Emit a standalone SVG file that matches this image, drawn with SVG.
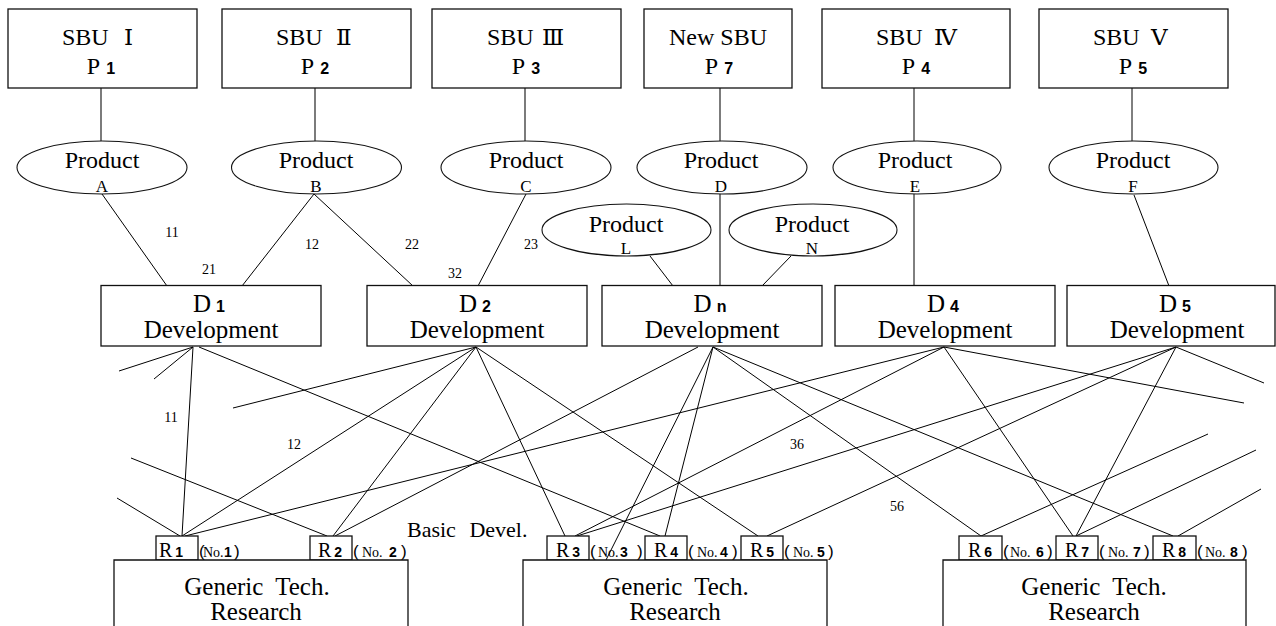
<svg xmlns="http://www.w3.org/2000/svg" width="1276" height="626" viewBox="0 0 1276 626">
  <style>
    .box { fill: #fff; stroke: #111; stroke-width: 1.3; }
    .ell { fill: #fff; stroke: #111; stroke-width: 1.1; }
    .stem { stroke: #444; stroke-width: 1.4; fill: none; }
    .wire { stroke: #000; stroke-width: 1; fill: none; }
    text { font-family: "Liberation Serif", "Times New Roman", serif; fill: #000; }
    .big { font-size: 24px; }
    .dev { font-size: 25px; }
    .prod { font-size: 24px; text-anchor: middle; }
    .sub { font-size: 17px; text-anchor: middle; }
    .mid { text-anchor: middle; }
    .dg { font-family: "Liberation Sans", Arial, sans-serif; font-weight: bold; font-size: 16px; }
    .rdg { font-family: "Liberation Sans", Arial, sans-serif; font-weight: bold; font-size: 14px; }
    .rl { font-size: 20px; }
    .nn { font-size: 14px; }
    .pr { font-family: "Liberation Sans", Arial, sans-serif; font-size: 17px; }
    .w { font-size: 14px; text-anchor: middle; }
    .num { font-family: "DejaVu Serif", "Liberation Serif", "Noto Sans CJK JP", serif; font-size: 23px; }
  </style>

  <!-- links between layers -->
  <g id="connectors">
    <!-- SBU to product -->
    <line class="stem" x1="101" y1="88" x2="101" y2="141"/>
    <line class="stem" x1="315" y1="88" x2="315" y2="141"/>
    <line class="stem" x1="525" y1="88" x2="525" y2="141"/>
    <line class="stem" x1="720" y1="88" x2="720" y2="141"/>
    <line class="wire" x1="914" y1="88" x2="914" y2="141"/>
    <line class="wire" x1="1132" y1="88" x2="1132" y2="141"/>

    <!-- product to development -->
    <line class="wire" x1="102" y1="194" x2="167" y2="286"/>
    <line class="wire" x1="314" y1="194" x2="242" y2="286"/>
    <line class="wire" x1="314" y1="194" x2="413" y2="286"/>
    <line class="wire" x1="526" y1="194" x2="478" y2="286"/>
    <line class="stem" x1="720" y1="194" x2="720" y2="286"/>
    <line class="wire" x1="650" y1="256" x2="673" y2="286"/>
    <line class="wire" x1="791" y1="256" x2="762" y2="286"/>
    <line class="wire" x1="914" y1="194" x2="914" y2="289"/>
    <line class="wire" x1="1134" y1="195" x2="1169" y2="286"/>

    <!-- development to research -->
    <line class="wire" x1="193" y1="347" x2="119" y2="371"/>
    <line class="wire" x1="193" y1="347" x2="154" y2="379"/>
    <line class="wire" x1="193" y1="347" x2="182" y2="536"/>
    <line class="wire" x1="199" y1="347" x2="660" y2="536"/>

    <line class="wire" x1="476" y1="347" x2="233" y2="408"/>
    <line class="wire" x1="476" y1="347" x2="182" y2="536"/>
    <line class="wire" x1="476" y1="347" x2="333" y2="536"/>
    <line class="wire" x1="476" y1="347" x2="565" y2="536"/>
    <line class="wire" x1="476" y1="347" x2="758" y2="536"/>

    <line class="wire" x1="698" y1="347" x2="335" y2="536"/>
    <line class="wire" x1="713" y1="347" x2="606" y2="560"/>
    <line class="wire" x1="713" y1="347" x2="665" y2="536"/>
    <line class="wire" x1="713" y1="347" x2="981" y2="536"/>
    <line class="wire" x1="713" y1="347" x2="1173" y2="536"/>

    <line class="wire" x1="944" y1="347" x2="185" y2="536"/>
    <line class="wire" x1="944" y1="347" x2="575" y2="536"/>
    <line class="wire" x1="944" y1="347" x2="1073" y2="536"/>
    <line class="wire" x1="944" y1="347" x2="1244" y2="403"/>

    <line class="wire" x1="1176" y1="347" x2="577" y2="536"/>
    <line class="wire" x1="1176" y1="347" x2="767" y2="536"/>
    <line class="wire" x1="1176" y1="347" x2="1076" y2="536"/>
    <line class="wire" x1="1176" y1="347" x2="1264" y2="383"/>

    <!-- stubs rising from research nodes -->
    <line class="wire" x1="327" y1="536" x2="131" y2="458"/>
    <line class="wire" x1="180" y1="536" x2="117" y2="498"/>
    <line class="wire" x1="981" y1="536" x2="1208" y2="434"/>
    <line class="wire" x1="1076" y1="536" x2="1256" y2="450"/>
    <line class="wire" x1="1178" y1="536" x2="1261" y2="489"/>
  </g>

  <!-- weights -->
  <g id="weights">
    <text class="w" x="172" y="237">11</text>
    <text class="w" x="312" y="249">12</text>
    <text class="w" x="412" y="249">22</text>
    <text class="w" x="531" y="249">23</text>
    <text class="w" x="209" y="274">21</text>
    <text class="w" x="455" y="278">32</text>
    <text class="w" x="171" y="422">11</text>
    <text class="w" x="294" y="449">12</text>
    <text class="w" x="797" y="449">36</text>
    <text class="w" x="897" y="511">56</text>
  </g>

  <!-- strategic business units -->
  <g id="sbu1">
    <rect class="box" x="8" y="9" width="189" height="79"/>
    <text class="big" x="62" y="45">SBU</text><text class="num" x="124" y="45">Ⅰ</text>
    <text class="big mid" x="101" y="74">P<tspan class="dg" dx="6">1</tspan></text>
  </g>
  <g id="sbu2">
    <rect class="box" x="222" y="9" width="189" height="79"/>
    <text class="big" x="276" y="45">SBU</text><text class="num" x="336" y="45">Ⅱ</text>
    <text class="big mid" x="315" y="74">P<tspan class="dg" dx="6">2</tspan></text>
  </g>
  <g id="sbu3">
    <rect class="box" x="432" y="9" width="189" height="79"/>
    <text class="big" x="487" y="45">SBU</text><text class="num" x="542" y="45">Ⅲ</text>
    <text class="big mid" x="526" y="74">P<tspan class="dg" dx="6">3</tspan></text>
  </g>
  <g id="sbuNew">
    <rect class="box" x="644" y="9" width="148" height="79"/>
    <text class="big mid" x="718" y="45">New SBU</text>
    <text class="big mid" x="719" y="74">P<tspan class="dg" dx="6">7</tspan></text>
  </g>
  <g id="sbu4">
    <rect class="box" x="822" y="9" width="188" height="79"/>
    <text class="big" x="876" y="45">SBU</text><text class="num" x="934" y="45">Ⅳ</text>
    <text class="big mid" x="916" y="74">P<tspan class="dg" dx="6">4</tspan></text>
  </g>
  <g id="sbu5">
    <rect class="box" x="1039" y="9" width="189" height="79"/>
    <text class="big" x="1093" y="45">SBU</text><text class="num" x="1151" y="45">Ⅴ</text>
    <text class="big mid" x="1133" y="74">P<tspan class="dg" dx="6">5</tspan></text>
  </g>

  <!-- products -->
  <g id="prodA">
    <ellipse class="ell" cx="102" cy="167.5" rx="85" ry="26.5"/>
    <text class="prod" x="102" y="168">Product</text>
    <text class="sub" x="102" y="192">A</text>
  </g>
  <g id="prodB">
    <ellipse class="ell" cx="316.5" cy="167.5" rx="85" ry="26.5"/>
    <text class="prod" x="316" y="168">Product</text>
    <text class="sub" x="316" y="192">B</text>
  </g>
  <g id="prodC">
    <ellipse class="ell" cx="526" cy="167.5" rx="85" ry="26.5"/>
    <text class="prod" x="526" y="168">Product</text>
    <text class="sub" x="526" y="192">C</text>
  </g>
  <g id="prodD">
    <ellipse class="ell" cx="722" cy="167.5" rx="85" ry="26.5"/>
    <text class="prod" x="721" y="168">Product</text>
    <text class="sub" x="721" y="192">D</text>
  </g>
  <g id="prodE">
    <ellipse class="ell" cx="917" cy="167.5" rx="84" ry="26.5"/>
    <text class="prod" x="915" y="168">Product</text>
    <text class="sub" x="915" y="192">E</text>
  </g>
  <g id="prodF">
    <ellipse class="ell" cx="1133.5" cy="167.5" rx="84.5" ry="26.5"/>
    <text class="prod" x="1133" y="168">Product</text>
    <text class="sub" x="1133" y="192">F</text>
  </g>
  <g id="prodL">
    <ellipse class="ell" cx="626.5" cy="230" rx="84.5" ry="26"/>
    <text class="prod" x="626" y="232">Product</text>
    <text class="sub" x="626" y="254">L</text>
  </g>
  <g id="prodN">
    <ellipse class="ell" cx="813" cy="230" rx="84" ry="26"/>
    <text class="prod" x="812" y="232">Product</text>
    <text class="sub" x="812" y="254">N</text>
  </g>

  <!-- development units -->
  <g id="dev1">
    <rect class="box" x="101" y="285.5" width="220" height="60.5"/>
    <text class="dev mid" x="209" y="312">D<tspan class="dg" dx="5">1</tspan></text>
    <text class="dev mid" x="211" y="338">Development</text>
  </g>
  <g id="dev2">
    <rect class="box" x="367" y="285.5" width="220" height="60.5"/>
    <text class="dev mid" x="475" y="312">D<tspan class="dg" dx="5">2</tspan></text>
    <text class="dev mid" x="477" y="338">Development</text>
  </g>
  <g id="devN">
    <rect class="box" x="602" y="285.5" width="220" height="60.5"/>
    <text class="dev mid" x="710" y="312">D<tspan class="dg" dx="5">n</tspan></text>
    <text class="dev mid" x="712" y="338">Development</text>
  </g>
  <g id="dev4">
    <rect class="box" x="835" y="285.5" width="220" height="60.5"/>
    <text class="dev mid" x="943" y="312">D<tspan class="dg" dx="5">4</tspan></text>
    <text class="dev mid" x="945" y="338">Development</text>
  </g>
  <g id="dev5">
    <rect class="box" x="1067" y="285.5" width="208" height="60.5"/>
    <text class="dev mid" x="1175" y="312">D<tspan class="dg" dx="5">5</tspan></text>
    <text class="dev mid" x="1177" y="338">Development</text>
  </g>

  <text id="basicDevel" x="407" y="537" font-size="22" word-spacing="8">Basic Devel.</text>

  <!-- research nodes -->
  <g id="r1">
    <rect class="box" x="156" y="536" width="42" height="24"/>
    <text class="rl mid" x="171" y="557">R<tspan class="rdg" dx="3">1</tspan></text>
    <text y="557"><tspan class="pr" x="199">(</tspan><tspan class="nn" x="203" font-size="10">No.</tspan><tspan class="rdg" x="224">1</tspan><tspan class="pr" x="234">)</tspan></text>
  </g>
  <g id="r2">
    <rect class="box" x="310" y="536" width="42" height="24"/>
    <text class="rl mid" x="330" y="557">R<tspan class="rdg" dx="3">2</tspan></text>
    <text y="557"><tspan class="pr" x="353">(</tspan><tspan class="nn" x="362">No.</tspan><tspan class="rdg" x="389">2</tspan><tspan class="pr" x="401">)</tspan></text>
  </g>
  <g id="r3">
    <rect class="box" x="547" y="536" width="42" height="24"/>
    <text class="rl mid" x="568" y="557">R<tspan class="rdg" dx="3">3</tspan></text>
    <text y="557"><tspan class="pr" x="590">(</tspan><tspan class="nn" x="598">No.</tspan><tspan class="rdg" x="620">3</tspan><tspan class="pr" x="637">)</tspan></text>
  </g>
  <g id="r4">
    <rect class="box" x="645" y="536" width="42" height="24"/>
    <text class="rl mid" x="666" y="557">R<tspan class="rdg" dx="3">4</tspan></text>
    <text y="557"><tspan class="pr" x="688">(</tspan><tspan class="nn" x="697">No.</tspan><tspan class="rdg" x="720">4</tspan><tspan class="pr" x="732">)</tspan></text>
  </g>
  <g id="r5">
    <rect class="box" x="741" y="536" width="42" height="24"/>
    <text class="rl mid" x="762" y="557">R<tspan class="rdg" dx="3">5</tspan></text>
    <text y="557"><tspan class="pr" x="784">(</tspan><tspan class="nn" x="793">No.</tspan><tspan class="rdg" x="817">5</tspan><tspan class="pr" x="828">)</tspan></text>
  </g>
  <g id="r6">
    <rect class="box" x="959" y="536" width="43" height="24"/>
    <text class="rl mid" x="980" y="557">R<tspan class="rdg" dx="3">6</tspan></text>
    <text y="557"><tspan class="pr" x="1003">(</tspan><tspan class="nn" x="1010">No.</tspan><tspan class="rdg" x="1036">6</tspan><tspan class="pr" x="1047">)</tspan></text>
  </g>
  <g id="r7">
    <rect class="box" x="1056" y="536" width="42" height="24"/>
    <text class="rl mid" x="1077" y="557">R<tspan class="rdg" dx="3">7</tspan></text>
    <text y="557"><tspan class="pr" x="1099">(</tspan><tspan class="nn" x="1108">No.</tspan><tspan class="rdg" x="1133">7</tspan><tspan class="pr" x="1144">)</tspan></text>
  </g>
  <g id="r8">
    <rect class="box" x="1153" y="536" width="43" height="24"/>
    <text class="rl mid" x="1174" y="557">R<tspan class="rdg" dx="3">8</tspan></text>
    <text y="557"><tspan class="pr" x="1197">(</tspan><tspan class="nn" x="1205">No.</tspan><tspan class="rdg" x="1230">8</tspan><tspan class="pr" x="1242">)</tspan></text>
  </g>

  <!-- generic technology research blocks (open at the bottom edge) -->
  <g id="gen1">
    <path class="box" d="M114,627 V560 H408 V627"/>
    <text class="dev mid" x="257" y="595" word-spacing="6">Generic Tech.</text>
    <text class="dev mid" x="256" y="620">Research</text>
  </g>
  <g id="gen2">
    <path class="box" d="M523,627 V560 H827 V627"/>
    <text class="dev mid" x="676" y="595" word-spacing="6">Generic Tech.</text>
    <text class="dev mid" x="675" y="620">Research</text>
  </g>
  <g id="gen3">
    <path class="box" d="M943,627 V560 H1246 V627"/>
    <text class="dev mid" x="1094" y="595" word-spacing="6">Generic Tech.</text>
    <text class="dev mid" x="1094" y="620">Research</text>
  </g>
</svg>
